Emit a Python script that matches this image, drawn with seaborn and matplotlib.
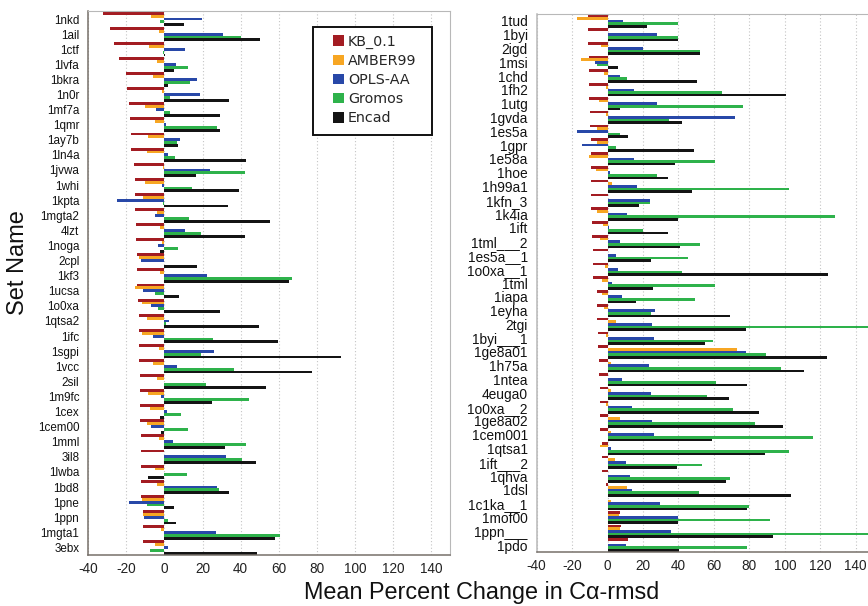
import matplotlib
matplotlib.use("Agg")
import matplotlib.pyplot as plt
from matplotlib.patches import Rectangle
import seaborn as sns
import pandas as pd

# ---- data -------------------------------------------------------------
series = ["KB_0.1", "AMBER99", "OPLS-AA", "Gromos", "Encad"]
colors = ["#A31C22", "#F7A623", "#2848A8", "#2EB24B", "#141414"]

left_names = ["1nkd", "1ail", "1ctf", "1lvfa", "1bkra", "1n0r", "1mf7a", "1qmr",
              "1ay7b", "1ln4a", "1jvwa", "1whi", "1kpta", "1mgta2", "4lzt", "1noga",
              "2cpl", "1kf3", "1ucsa", "1o0xa", "1qtsa2", "1ifc", "1sgpi", "1vcc",
              "2sil", "1m9fc", "1cex", "1cem00", "1mml", "3il8", "1lwba", "1bd8",
              "1pne", "1ppn", "1mgta1", "3ebx"]
kb_left = [-32.5, -28.7, -26.4, -24.0, -20.1, -19.8, -18.7, -18.2, -17.8, -17.7,
           -16.1, -15.6, -15.6, -15.4, -15.2, -15.0, -14.2, -14.2, -14.2, -13.8,
           -13.6, -13.5, -13.5, -13.3, -13.1, -12.9, -12.9, -12.8, -12.4, -12.4,
           -12.4, -12.2, -12.1, -11.5, -11.5, -11.2]
amber_left = [-7.2, -3.0, -8.2, -3.8, -6.1, -1.2, -10.0, -4.9, -8.6, -9.4,
              -0.9, -10.0, -11.5, -4.0, -2.6, -1.2, -13.6, -2.1, -15.4, -11.7,
              -9.3, -11.9, -3.0, -6.1, -3.8, -8.6, -7.5, -9.1, -3.0, 0.0,
              -4.9, -3.8, -11.9, -11.2, -1.7, -4.9]
opls_left = [19.9, 30.8, 11.0, 5.8, 17.1, 18.4, -4.5, 1.0, 7.9, 1.9,
             23.8, -1.2, -24.8, -4.9, 10.7, -3.3, -12.4, 22.2, -11.5, -7.0,
             2.4, -6.3, 26.0, 6.6, -0.3, -1.6, 1.2, -7.2, 4.7, 32.3,
             -0.2, 27.8, -18.5, -10.8, 27.1, 2.1]
gromos_left = [-2.4, 40.0, -0.8, 12.1, 13.3, 3.1, 3.1, 27.4, 6.5, 5.4,
               42.5, 14.7, -0.7, 13.1, 19.4, 7.3, -0.5, 67.0, -5.2, -3.5,
               1.0, 25.7, 19.4, 36.4, 21.9, 44.6, 8.9, 12.6, 42.8, 40.6,
               11.9, 28.7, -9.4, 1.6, 60.8, -7.7]
encad_left = [10.5, 50.3, 0.4, 4.9, 2.1, 33.9, 29.4, 29.4, 7.2, 43.0,
              16.3, 39.0, 33.2, 55.4, 42.1, -2.3, 17.3, 65.4, 7.7, 29.2,
              49.7, 59.8, 93.0, 77.6, 53.3, 25.2, -2.1, -1.9, 32.0, 48.3,
              -8.9, 33.9, 4.9, 5.9, 57.9, 48.4]

right_names = ["1tud", "1byi", "2igd", "1msi", "1chd", "1fh2", "1utg", "1gvda",
               "1es5a", "1gpr", "1e58a", "1hoe", "1h99a1", "1kfn_3", "1k4ia", "1ift",
               "1tml___2", "1es5a__1", "1o0xa__1", "1tml", "1iapa", "1eyha", "2tgi",
               "1byi___1", "1ge8a01", "1h75a", "1ntea", "4euga0", "1o0xa__2",
               "1ge8a02", "1cem001", "1qtsa1", "1ift___2", "1qhva", "1dsl",
               "1c1ka__1", "1mof00", "1ppn___", "1pdo"]
kb_right = [-11.1, -11.1, -10.9, -10.7, -10.5, -10.4, -10.4, -10.0, -9.8, -9.6,
            -9.4, -9.2, -9.2, -9.2, -9.2, -8.9, -8.7, -8.5, -8.3, -8.1,
            -6.2, -6.0, -6.0, -5.6, -5.5, -5.1, -4.9, -4.3, -4.3, -4.3,
            -4.1, -3.4, -3.0, -3.0, -0.8, 0.0, 7.2, 7.3, 11.7]
amber_right = [-17.3, 0.0, -3.6, -14.9, -2.3, -0.9, -5.1, -0.8, -6.2, -5.8,
               -10.4, -6.8, 2.3, 0.0, -5.8, -2.6, -4.5, 0.0, -1.7, -3.4,
               -3.2, -2.3, 4.5, -0.8, 72.9, 1.7, 0.0, 1.7, -0.8, 7.0,
               1.7, -4.5, 4.3, 0.0, 10.9, 1.7, 6.6, 7.2, 0.0]
opls_right = [8.7, 27.9, 20.2, -7.3, 7.2, 14.9, 28.1, 71.9, -17.3, -14.5,
              15.1, 1.3, 16.8, 24.1, 11.1, 0.8, 6.8, 4.5, 6.0, 2.6,
              7.9, 26.9, 24.9, 26.2, 78.3, 23.5, 8.1, 24.5, 13.9, 25.2,
              26.0, 2.1, 10.5, 12.8, 13.6, 29.8, 39.5, 35.8, 10.5]
gromos_right = [39.7, 39.7, 52.0, -5.8, 11.1, 64.4, 76.5, 34.5, 6.8, 4.9,
                60.6, 27.7, 102.6, 23.7, 128.2, 19.8, 52.0, 45.2, 42.2, 60.6,
                49.5, 24.7, 158.0, 59.7, 89.5, 97.6, 61.4, 56.1, 71.0, 83.4,
                116.0, 102.1, 53.3, 69.3, 51.8, 80.0, 91.9, 155.0, 78.9]
encad_right = [22.2, 39.7, 52.0, 5.6, 50.5, 100.8, 7.0, 42.0, 11.5, 49.0,
               38.0, 34.3, 47.8, 17.7, 39.5, 33.9, 40.9, 24.7, 124.5, 25.6,
               16.2, 69.3, 78.3, 55.0, 123.9, 110.9, 78.5, 68.5, 85.5, 99.1,
               58.9, 88.9, 39.2, 66.7, 103.2, 78.7, 39.9, 93.2, 40.3]

x_ticks = [-40, -20, 0, 20, 40, 60, 80, 100, 120, 140]


def to_long(names, cols):
    frames = []
    for s, vals in zip(series, cols):
        frames.append(pd.DataFrame({"name": names, "series": s, "value": vals}))
    return pd.concat(frames, ignore_index=True)


df_left = to_long(left_names, [kb_left, amber_left, opls_left, gromos_left, encad_left])
df_right = to_long(right_names, [kb_right, amber_right, opls_right, gromos_right, encad_right])

# ---- style ------------------------------------------------------------
sns.set_style("white")
plt.rcParams["font.family"] = ["Liberation Sans", "DejaVu Sans"]
plt.rcParams["axes.unicode_minus"] = False

fig = plt.figure(figsize=(8.68, 6.06), dpi=100)
ax_l = fig.add_axes([0.1018, 0.0842, 0.4166, 0.8969])
ax_r = fig.add_axes([0.6183, 0.0891, 0.3880, 0.8878])

palette = dict(zip(series, colors))


def draw(ax, df, names, label_size, legend):
    sns.barplot(data=df, y="name", x="value", hue="series", order=names,
                hue_order=series, palette=palette, orient="h", width=0.96,
                saturation=1, linewidth=0, errorbar=None, legend=legend, ax=ax)
    ax.set_xlim(-40, 150)
    ax.set_ylim(len(names) - 0.5, -0.5)
    ax.set_xticks(x_ticks)
    ax.set_xticklabels([str(t) for t in x_ticks])
    ax.set_xlabel("")
    ax.set_ylabel("")
    ax.set_axisbelow(True)
    ax.xaxis.grid(True, linestyle=(0, (1, 2)), color="#c4c4c4", linewidth=0.8)
    ax.yaxis.grid(False)
    ax.tick_params(axis="y", length=0, pad=6.5, labelsize=label_size, colors="#111111")
    ax.tick_params(axis="x", length=0, pad=5, labelsize=9.8, colors="#222222")
    for side in ["top", "right"]:
        ax.spines[side].set_color("#b8b8b8")
        ax.spines[side].set_linewidth(0.8)
    for side in ["left", "bottom"]:
        ax.spines[side].set_color("#77706a")
        ax.spines[side].set_linewidth(1.1)


draw(ax_l, df_left, left_names, 8.4, True)
draw(ax_r, df_right, right_names, 9.9, False)
ax_r.spines["left"].set_color("#b8b8b8")

# legend entries without frame, boxed by a separate rectangle
leg = ax_l.legend(loc="upper left", bbox_to_anchor=(0.3836, 0.9430),
                  bbox_transform=fig.transFigure, borderaxespad=0, borderpad=0,
                  frameon=False, handlelength=0.75, handleheight=0.75,
                  handletextpad=0.3, labelspacing=0.36,
                  prop={"family": "DejaVu Sans", "size": 10.3})
frame = Rectangle((0.3606, 0.7772), 0.1371, 0.1782, transform=fig.transFigure,
                  facecolor="white", edgecolor="#111111", linewidth=1.4,
                  zorder=4)
ax_l.add_artist(frame)
leg.set_zorder(5)

fig.text(0.021, 0.566, "Set Name", rotation=90, ha="center", va="center",
         fontsize=17, color="#111111")
fig.text(0.555, 0.004, "Mean Percent Change in C\u03b1-rmsd", ha="center",
         va="bottom", fontsize=16.8, color="#111111")

fig.savefig("out.png", dpi=100)
